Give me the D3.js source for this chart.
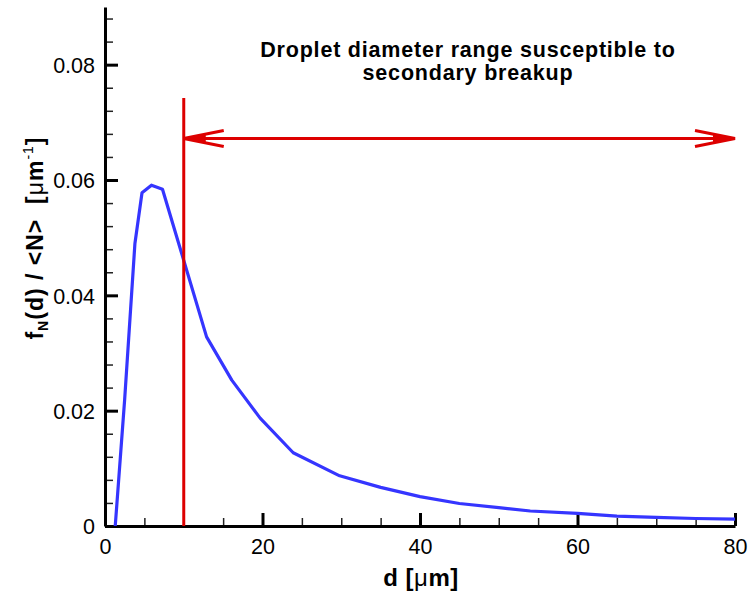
<!DOCTYPE html>
<html>
<head>
<meta charset="utf-8">
<script src="https://cdn.jsdelivr.net/npm/d3@7"></script>
<style>
  html, body { margin: 0; padding: 0; background: #fff; }
  svg { display: block; font-family: "Liberation Sans", Arial, sans-serif; }
  text { white-space: pre; }
</style>
</head>
<body>
<svg id="chart" width="748" height="592"></svg>
<script>
// ---- data ----
const diameters = [1.3, 2.5, 3.8, 4.7, 5.9, 7.3, 12.9, 16.1, 19.7, 23.9, 29.8, 35, 40, 45, 50, 54, 60, 65, 70, 75, 80];
const pdfValues = [0, 0.022, 0.049, 0.0578, 0.0591, 0.0584, 0.0328, 0.0253, 0.0187, 0.0127, 0.0087, 0.0067, 0.0051, 0.0039, 0.0032, 0.0026, 0.0022, 0.0017, 0.0015, 0.0013, 0.0012];
const xMajorTicks = [0, 20, 40, 60, 80];
const xMinorTicks = [5, 10, 15, 25, 30, 35, 45, 50, 55, 65, 70, 75];
const yMajorTicks = [0, 0.02, 0.04, 0.06, 0.08];
const yMinorTicks = [0.004, 0.008, 0.012, 0.016, 0.024, 0.028, 0.032, 0.036, 0.044, 0.048, 0.052, 0.056, 0.064, 0.068, 0.072, 0.076, 0.084, 0.088];
const yTickLabels = ["0", "0.02", "0.04", "0.06", "0.08"];
const xTickLabels = ["0", "20", "40", "60", "80"];
const breakupStart = 10;     // d where the red line sits
const breakupEnd = 80;
const markerTop = 0.0742;    // top of vertical red line
const arrowLevel = 0.0672;   // height of double arrow
const annotation = ["Droplet diameter range susceptible to", "secondary breakup"];

// ---- layout ----
const svg = d3.select("#chart");
const x = d3.scaleLinear().domain([0, 80]).range([105, 735]);
const y = d3.scaleLinear().domain([0, 0.09]).range([526, 7]);

const RED = "#dd0000";
const BLUE = "#3535ff";

// minor ticks
svg.append("g")
  .attr("transform", `translate(0,${y(0)})`)
  .call(d3.axisBottom(x).tickValues(xMinorTicks).tickSize(-8).tickFormat(""))
  .call(g => g.select(".domain").remove())
  .call(g => g.selectAll("line").attr("stroke", "#222").attr("stroke-width", 1.5));
svg.append("g")
  .attr("transform", `translate(${x(0)},0)`)
  .call(d3.axisLeft(y).tickValues(yMinorTicks).tickSize(-8).tickFormat(""))
  .call(g => g.select(".domain").remove())
  .call(g => g.selectAll("line").attr("stroke", "#222").attr("stroke-width", 1.5));

// major axes
const xAxis = svg.append("g")
  .attr("transform", `translate(0,${y(0)})`)
  .call(d3.axisBottom(x).tickValues(xMajorTicks).tickSize(-13).tickSizeOuter(0)
        .tickPadding(13).tickFormat((d, i) => xTickLabels[i]));
const yAxis = svg.append("g")
  .attr("transform", `translate(${x(0)},0)`)
  .call(d3.axisLeft(y).tickValues(yMajorTicks).tickSize(-13).tickSizeOuter(0)
        .tickPadding(10).tickFormat((d, i) => yTickLabels[i]));
[xAxis, yAxis].forEach(g => {
  g.select(".domain").attr("stroke", "#000").attr("stroke-width", 3);
  g.selectAll(".tick line").attr("stroke", "#000").attr("stroke-width", 3);
  g.selectAll(".tick text").attr("fill", "#000").attr("font-size", 21.5)
    .attr("font-family", "Liberation Sans, Arial, sans-serif");
});
yAxis.selectAll(".tick text").attr("dy", "0.36em");

// curve
const pts = diameters.map((d, i) => [d, pdfValues[i]]);
svg.append("path")
  .datum(pts)
  .attr("fill", "none")
  .attr("stroke", BLUE)
  .attr("stroke-width", 3.2)
  .attr("stroke-linejoin", "round")
  .attr("d", d3.line().x(p => x(p[0])).y(p => y(p[1])));

// red vertical line
svg.append("line")
  .attr("x1", x(breakupStart)).attr("x2", x(breakupStart))
  .attr("y1", y(markerTop)).attr("y2", y(0))
  .attr("stroke", RED).attr("stroke-width", 3);

// double arrow
const ay = y(arrowLevel);
svg.append("line")
  .attr("x1", x(breakupStart)).attr("x2", x(breakupEnd))
  .attr("y1", ay).attr("y2", ay)
  .attr("stroke", RED).attr("stroke-width", 3);
const wingL = 40, wingH = 8;
function head(tip, dir) {
  const g = svg.append("g");
  g.append("path")
    .attr("d", `M${tip + dir * wingL},${ay - wingH} L${tip},${ay} L${tip + dir * wingL},${ay + wingH}`)
    .attr("fill", "none").attr("stroke", RED).attr("stroke-width", 3).attr("stroke-linejoin", "miter");
  g.append("path")
    .attr("d", `M${tip},${ay} L${tip + dir * 22},${ay - 5} L${tip + dir * 22},${ay + 5} Z`)
    .attr("fill", RED);
}
head(x(breakupStart), 1);
head(x(breakupEnd), -1);

// annotation
const ann = svg.append("text")
  .attr("x", 468).attr("y", 57)
  .attr("text-anchor", "middle")
  .attr("font-weight", "bold").attr("font-size", 21.5).attr("letter-spacing", 0.8).attr("fill", "#000");
ann.append("tspan").attr("x", 468).attr("dy", 0).text(annotation[0]);
ann.append("tspan").attr("x", 468).attr("dy", 23).text(annotation[1]);

// x title
const xt = svg.append("text")
  .attr("x", 421).attr("y", 586)
  .attr("text-anchor", "middle")
  .attr("font-weight", "bold").attr("font-size", 24).attr("letter-spacing", 0.5).attr("fill", "#000");
xt.append("tspan").text("d [");
xt.append("tspan").attr("font-weight", "normal").text("μ");
xt.append("tspan").text("m]");

// y title
const yt = svg.append("text")
  .attr("transform", "translate(43,238) rotate(-90)")
  .attr("text-anchor", "middle")
  .attr("font-weight", "bold").attr("font-size", 23).attr("letter-spacing", 1).attr("fill", "#000");
yt.append("tspan").text("f");
yt.append("tspan").attr("font-size", 14).attr("dy", 5).text("N");
yt.append("tspan").attr("dy", -5).text("(d) / <N>  [");
yt.append("tspan").attr("font-weight", "normal").text("μ");
yt.append("tspan").text("m");
yt.append("tspan").attr("font-size", 14).attr("font-weight", "normal").attr("dy", -10).text("-1");
yt.append("tspan").attr("dy", 10).text("]");
</script>
</body>
</html>
